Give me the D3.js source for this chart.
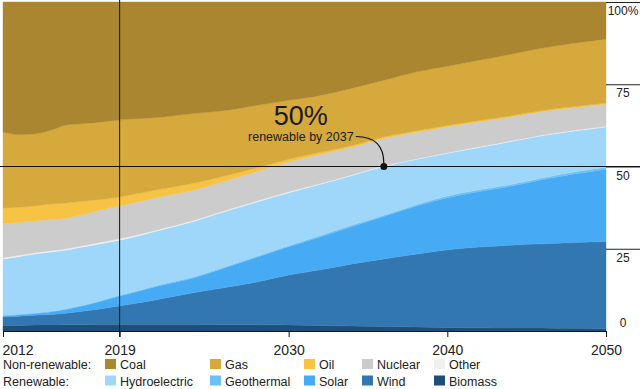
<!DOCTYPE html>
<html>
<head>
<meta charset="utf-8">
<script src="https://cdn.jsdelivr.net/npm/d3@7"></script>
<style>
  body { margin: 0; background: #fff; }
  svg { display: block; font-family: "Liberation Sans", Arial, sans-serif; }
</style>
</head>
<body>
<div id="wrapper"></div>
<script>
// share of power generation, %
const years = [2012, 2013, 2014, 2015, 2016, 2017, 2018, 2019, 2020, 2022, 2024, 2026, 2028, 2030, 2032, 2034, 2036, 2038, 2040, 2042, 2044, 2046, 2048, 2050];

const biomass    = [1.7, 1.7, 1.8, 1.8, 1.9, 1.9, 2.0, 2.0, 2.0, 2.0, 2.0, 1.9, 1.9, 1.8, 1.7, 1.5, 1.4, 1.2, 1.1, 1.0, 0.9, 0.9, 0.8, 0.7];
const wind       = [2.6, 2.8, 3.0, 3.2, 3.5, 4.1, 4.6, 5.4, 6.1, 7.8, 9.6, 11.3, 13.0, 15.2, 16.9, 18.9, 20.5, 22.1, 23.6, 24.5, 25.2, 25.6, 26.1, 26.5];
const solar      = [0.3, 0.4, 0.5, 0.8, 1.2, 1.6, 2.2, 2.8, 3.3, 4.1, 4.5, 6.0, 7.5, 8.6, 10.0, 11.4, 12.9, 14.6, 15.8, 16.9, 17.9, 19.5, 20.8, 22.0];
const geothermal = [0.2, 0.2, 0.2, 0.2, 0.2, 0.2, 0.2, 0.2, 0.2, 0.3, 0.3, 0.3, 0.3, 0.3, 0.4, 0.4, 0.4, 0.4, 0.5, 0.5, 0.5, 0.5, 0.6, 0.6];
const hydro      = [17.1, 17.5, 17.9, 18.0, 17.8, 17.7, 17.4, 16.9, 16.7, 16.6, 16.9, 16.8, 16.5, 16.1, 15.6, 15.1, 14.8, 13.8, 13.0, 12.9, 13.1, 12.9, 12.5, 12.2];
const other      = [0.4, 0.4, 0.4, 0.4, 0.4, 0.4, 0.4, 0.4, 0.4, 0.3, 0.3, 0.3, 0.3, 0.3, 0.2, 0.2, 0.2, 0.2, 0.2, 0.2, 0.2, 0.2, 0.2, 0.2];
const nuclear    = [10.4, 10.0, 9.7, 9.5, 9.3, 9.4, 9.8, 10.1, 10.0, 9.8, 9.2, 9.0, 9.0, 9.1, 8.9, 8.4, 8.3, 8.1, 7.9, 7.6, 7.3, 7.1, 6.9, 6.8];
const oil        = [4.7, 4.6, 4.5, 4.7, 4.6, 4.1, 3.3, 2.7, 2.6, 2.3, 2.1, 1.6, 1.1, 0.8, 0.6, 0.5, 0.5, 0.4, 0.4, 0.4, 0.3, 0.3, 0.3, 0.3];
const gas        = [23.0, 22.1, 21.9, 22.4, 23.7, 23.6, 23.5, 23.5, 23.1, 21.8, 21.2, 19.8, 19.0, 17.9, 17.3, 17.4, 17.2, 17.9, 18.0, 18.3, 18.7, 19.0, 19.3, 19.4];
const coal       = [39.6, 40.3, 40.1, 39.0, 37.4, 37.0, 36.6, 36.0, 35.6, 35.0, 33.9, 33.0, 31.4, 29.9, 28.4, 26.2, 23.8, 21.3, 19.5, 17.7, 15.9, 14.0, 12.5, 11.3];

const xTickValues = [2012, 2019.35, 2030, 2040, 2050];
const xTickLabels = ["2012", "2019", "2030", "2040", "2050"];
const yTickValues = [0, 25, 50, 75, 100];
const yTickLabels = ["0", "25", "50", "75", "100%"];

const todayYear = 2019.35;
const milestoneYear = 2036;
const milestoneShare = 50;

const nonRenewable = ["Coal", "Gas", "Oil", "Nuclear", "Other"];
const renewable = ["Hydroelectric", "Geothermal", "Solar", "Wind", "Biomass"];

// bottom-up stacking order
const keys = ["biomass", "wind", "solar", "geothermal", "hydro", "other", "nuclear", "oil", "gas", "coal"];
const colors = {
	coal: "#a9862f",
	gas: "#d5a93c",
	oil: "#f6c345",
	nuclear: "#cccccc",
	other: "#f0f0f0",
	hydro: "#9fd7fa",
	geothermal: "#6cc0f3",
	solar: "#47aaf4",
	wind: "#3277b0",
	biomass: "#1f4f79"
};
const legendKeys = {
	Coal: "coal", Gas: "gas", Oil: "oil", Nuclear: "nuclear", Other: "other",
	Hydroelectric: "hydro", Geothermal: "geothermal", Solar: "solar", Wind: "wind", Biomass: "biomass"
};

const series = { biomass, wind, solar, geothermal, hydro, other, nuclear, oil, gas, coal };
const table = years.map((yr, i) => {
	const row = { year: yr };
	keys.forEach(k => row[k] = series[k][i]);
	return row;
});

const width = 640, height = 389;

const svg = d3.select("#wrapper").append("svg")
	.attr("width", width)
	.attr("height", height);

const xScale = d3.scaleLinear().domain([2012, 2050]).range([3, 606]);
const yScale = d3.scaleLinear().domain([0, 100]).range([331, 2]);

const stacked = d3.stack().keys(keys).offset(d3.stackOffsetExpand)(table);

const area = d3.area()
	.x(d => xScale(d.data.year))
	.y0(d => yScale(d[0] * 100))
	.y1(d => yScale(d[1] * 100))
	.curve(d3.curveMonotoneX);

svg.append("g").selectAll("path")
	.data(stacked)
	.join("path")
	.attr("d", area)
	.attr("fill", d => colors[d.key])
	.attr("stroke", d => colors[d.key])
	.attr("stroke-width", 0.4);

// x axis
const xAxis = svg.append("g")
	.attr("transform", `translate(0, ${yScale(0)})`)
	.call(d3.axisBottom(xScale)
		.tickValues(xTickValues)
		.tickFormat((d, i) => xTickLabels[i])
		.tickSize(6)
		.tickSizeOuter(0));
xAxis.select(".domain").attr("stroke", "#111");
xAxis.selectAll(".tick line").attr("stroke", "#111");
xAxis.selectAll(".tick text")
	.attr("font-size", 14)
	.attr("fill", "#222")
	.attr("y", 14)
	.attr("font-family", "Liberation Sans, Arial, sans-serif");
xAxis.selectAll(".tick text").filter((d, i) => i === 0).attr("text-anchor", "start").attr("x", -1);

// y axis on the right
const yAxis = svg.append("g")
	.attr("transform", `translate(${xScale(2050)}, 0)`)
	.call(d3.axisRight(yScale)
		.tickValues(yTickValues)
		.tickFormat((d, i) => yTickLabels[i])
		.tickSize(34)
		.tickSizeOuter(0));
yAxis.select(".domain").remove();
yAxis.selectAll(".tick line").attr("stroke", "#222");
yAxis.selectAll(".tick").filter(d => d === 0).select("line").remove();
yAxis.selectAll(".tick text")
	.attr("font-size", 12)
	.attr("fill", "#222")
	.attr("font-family", "Liberation Sans, Arial, sans-serif")
	.attr("text-anchor", "middle")
	.attr("x", 17)
	.attr("dy", d => d === 0 ? "-0.35em" : "1.05em");

// 2019 marker and 50% line
svg.append("line")
	.attr("x1", xScale(todayYear)).attr("x2", xScale(todayYear))
	.attr("y1", 0).attr("y2", yScale(0) + 6)
	.attr("stroke", "#111").attr("stroke-width", 1);

svg.append("line")
	.attr("x1", 0).attr("x2", width)
	.attr("y1", yScale(milestoneShare)).attr("y2", yScale(milestoneShare))
	.attr("stroke", "#111").attr("stroke-width", 1);

// annotation
const dotX = xScale(milestoneYear), dotY = yScale(milestoneShare);
const labelX = dotX - 83;

svg.append("text")
	.attr("x", labelX).attr("y", dotY - 42)
	.attr("text-anchor", "middle")
	.attr("font-size", 27)
	.attr("fill", "#1a1a1a")
	.text("50%");

svg.append("text")
	.attr("x", labelX).attr("y", dotY - 26)
	.attr("text-anchor", "middle")
	.attr("font-size", 12.5)
	.attr("fill", "#1a1a1a")
	.text("renewable by 2037");

svg.append("path")
	.attr("d", `M${dotX - 28},${dotY - 30} C${dotX - 8},${dotY - 30} ${dotX},${dotY - 20} ${dotX},${dotY - 3}`)
	.attr("fill", "none")
	.attr("stroke", "#111")
	.attr("stroke-width", 1.2);

svg.append("circle")
	.attr("cx", dotX).attr("cy", dotY)
	.attr("r", 3.5)
	.attr("fill", "#111");

// legend
const legendCols = [105, 210, 304, 362, 434];
const legendRows = [
	{ title: "Non-renewable:", items: nonRenewable, y: 369 },
	{ title: "Renewable:", items: renewable, y: 385.5 }
];

const legend = svg.append("g").attr("font-size", 12.5).attr("fill", "#222");
legendRows.forEach(row => {
	legend.append("text").attr("x", 3).attr("y", row.y).text(row.title);
	row.items.forEach((name, i) => {
		legend.append("rect")
			.attr("x", legendCols[i]).attr("y", row.y - 10)
			.attr("width", 11).attr("height", 10)
			.attr("fill", colors[legendKeys[name]]);
		legend.append("text")
			.attr("x", legendCols[i] + 15).attr("y", row.y)
			.text(name);
	});
});
</script>
</body>
</html>
